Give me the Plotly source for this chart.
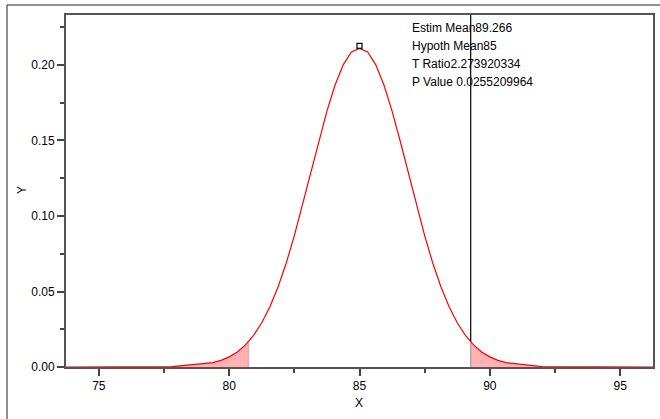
import plotly.graph_objects as go

# ---- data ----
curve_x = [73.74, 76.0, 77.8,
           79.375, 79.6875, 80.0, 80.3125, 80.625, 80.9375, 81.25, 81.5625, 81.875, 82.1875,
           82.5, 82.8125, 83.125, 83.4375, 83.75, 84.0625, 84.375, 84.6875, 85.0,
           85.3125, 85.625, 85.9375, 86.25, 86.5625, 86.875, 87.1875, 87.5, 87.8125,
           88.125, 88.4375, 88.75, 89.0625, 89.375, 89.6875, 90.0, 90.3125, 90.625,
           92.0, 94.0, 96.26]
curve_y = [0.0, 0.00001, 0.0002,
           0.0029, 0.0044, 0.0067, 0.0100, 0.0146, 0.0210, 0.0293, 0.0399, 0.0530, 0.0687,
           0.0870, 0.1072, 0.1284, 0.1495, 0.1694, 0.1867, 0.2001, 0.2086, 0.2110,
           0.2086, 0.2001, 0.1867, 0.1694, 0.1495, 0.1284, 0.1072, 0.0870, 0.0687,
           0.0530, 0.0399, 0.0293, 0.0210, 0.0146, 0.0100, 0.0067, 0.0044, 0.0029,
           0.0003, 0.00001, 0.0]

crit_lo, crit_lo_y = 80.734, 0.0168
crit_hi, crit_hi_y = 89.266, 0.0172
peak_x, peak_y = 85.0, 0.2126

x_range = [73.74, 96.26]
y_range = [0.0, 0.2331]

x_ticks = [75, 80, 85, 90, 95]
y_ticks = [0.00, 0.05, 0.10, 0.15, 0.20]
y_tick_text = ["0.00", "0.05", "0.10", "0.15", "0.20"]

stats_labels = ["Estim Mean89.266", "Hypoth Mean85", "T Ratio2.273920334", "P Value 0.0255209964"]

# ---- shaded tails ----
lo_x = [x for x in curve_x if x < crit_lo] + [crit_lo, crit_lo]
lo_y = [y for x, y in zip(curve_x, curve_y) if x < crit_lo] + [crit_lo_y, 0.0]
hi_x = [crit_hi, crit_hi] + [x for x in curve_x if x > crit_hi]
hi_y = [0.0, crit_hi_y] + [y for x, y in zip(curve_x, curve_y) if x > crit_hi]

fill_col = "rgba(255,0,0,0.3)"
fig = go.Figure()
fig.add_trace(go.Scatter(x=lo_x + [lo_x[0]], y=lo_y + [0.0], mode="lines", fill="toself",
                         fillcolor=fill_col, line=dict(width=0), hoverinfo="skip"))
fig.add_trace(go.Scatter(x=hi_x + [hi_x[-1]], y=hi_y + [0.0], mode="lines", fill="toself",
                         fillcolor=fill_col, line=dict(width=0), hoverinfo="skip"))
# light edges of shaded regions
fig.add_trace(go.Scatter(x=[crit_lo, crit_lo], y=[0, crit_lo_y], mode="lines",
                         line=dict(color="rgba(255,140,140,1)", width=1), hoverinfo="skip"))
fig.add_trace(go.Scatter(x=[crit_hi, crit_hi], y=[0, crit_hi_y], mode="lines",
                         line=dict(color="#aaaaaa", width=1.5), hoverinfo="skip"))
# density curve
fig.add_trace(go.Scatter(x=curve_x, y=curve_y, mode="lines",
                         line=dict(color="red", width=1.2)))
# estimate line
fig.add_trace(go.Scatter(x=[crit_hi, crit_hi], y=[crit_hi_y, y_range[1]], mode="lines",
                         line=dict(color="black", width=1.2)))
# peak marker
fig.add_trace(go.Scatter(x=[peak_x], y=[peak_y], mode="markers",
                         marker=dict(symbol="square-open", size=5, color="black",
                                     line=dict(width=1.2, color="black"))))

font = dict(family="Liberation Sans, Arial, sans-serif", size=12, color="black")
axis_common = dict(showline=True, linecolor="#555555", linewidth=2, mirror=True,
                   ticks="outside", ticklen=7, tickwidth=1.5, tickcolor="#444444",
                   showgrid=False, zeroline=False, tickfont=font, automargin=False)

fig.update_layout(
    width=660, height=419,
    margin=dict(l=66, r=7, t=15, b=52, autoexpand=False),
    paper_bgcolor="white", plot_bgcolor="white",
    showlegend=False,
    font=font,
    xaxis=dict(range=x_range, tickvals=x_ticks, ticktext=[str(t) for t in x_ticks],
               minor=dict(ticks="outside", ticklen=4, tickwidth=1.5, tickcolor="#444444",
                          dtick=2.5, tick0=72.5, showgrid=False),
               **axis_common),
    yaxis=dict(range=y_range, tickvals=y_ticks, ticktext=y_tick_text,
               minor=dict(ticks="outside", ticklen=4, tickwidth=1.5, tickcolor="#444444",
                          dtick=0.025, tick0=0.0, showgrid=False),
               **axis_common),
)

annotations = [
    dict(text="X", xref="paper", yref="paper", x=0.4991, y=-0.1014, showarrow=False,
         xanchor="center", yanchor="middle", font=font),
    dict(text="Y", xref="paper", yref="paper", x=-0.075, y=0.503, showarrow=False,
         textangle=-90, xanchor="center", yanchor="middle", font=font),
]
line_px = [27.5, 45.5, 63.5, 81.5]
for lab, py in zip(stats_labels, line_px):
    annotations.append(dict(text=lab, xref="paper", yref="paper", x=(410 - 66) / 587,
                            y=(367 - py) / 352, showarrow=False, xanchor="left",
                            yanchor="middle", font=font))
fig.update_layout(annotations=annotations)

# outer frame (left and top edges)
fig.add_shape(type="path", xref="paper", yref="paper",
              path="M -0.1005,-0.16 L -0.1005,1.0284 L 1.03,1.0284",
              line=dict(color="#222222", width=1))

fig.write_html("out.html", config={"displayModeBar": False},
               post_script="document.body.style.margin='0px';document.body.style.overflow='hidden';")
